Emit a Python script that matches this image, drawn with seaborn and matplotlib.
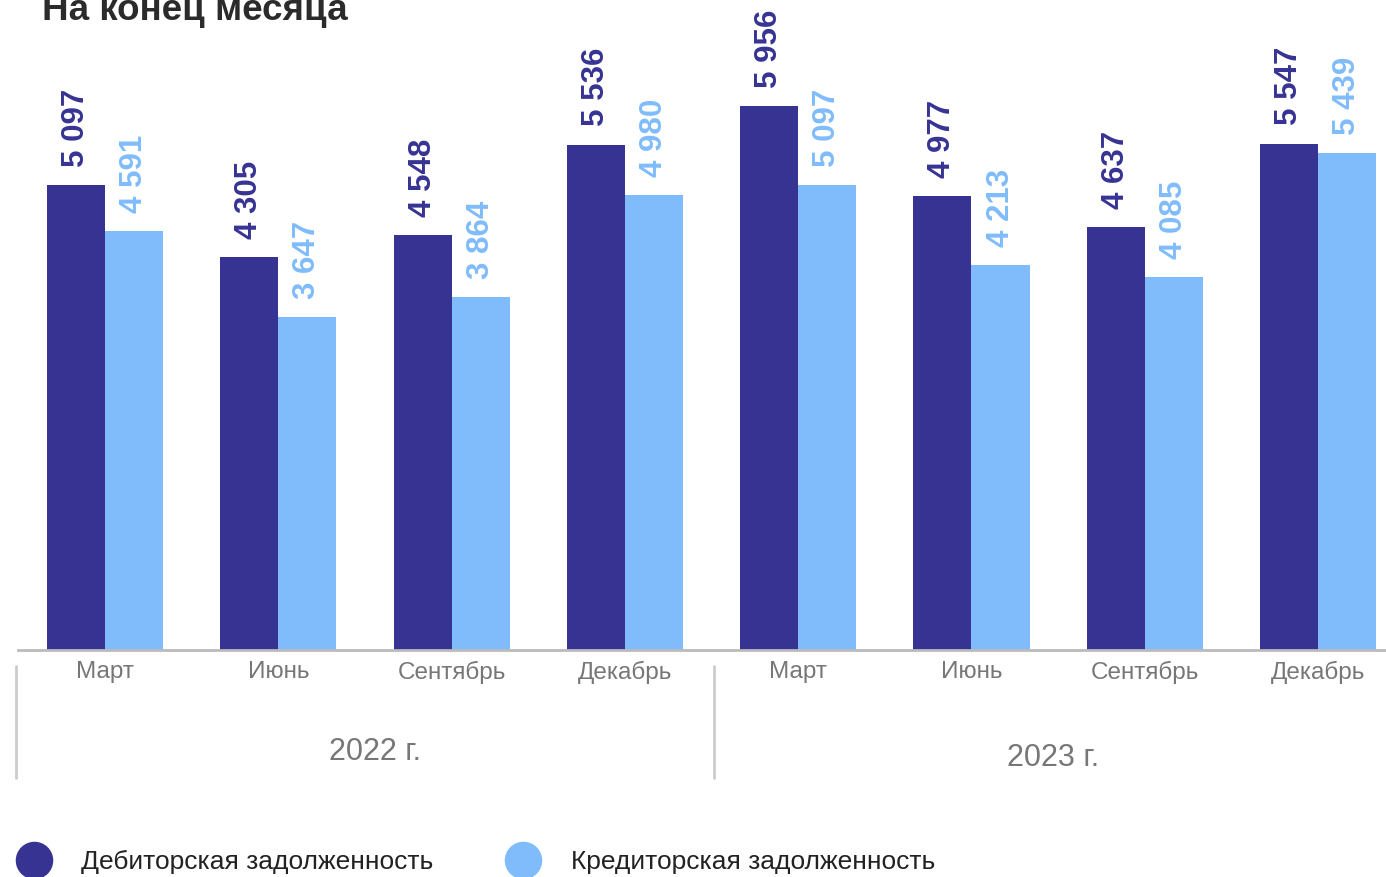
import pandas as pd
import seaborn as sns
import matplotlib.pyplot as plt
import matplotlib.transforms as mtransforms
from matplotlib.lines import Line2D

# data
periods = ["2022-03", "2022-06", "2022-09", "2022-12", "2023-03", "2023-06", "2023-09", "2023-12"]
months = ["Март", "Июнь", "Сентябрь", "Декабрь", "Март", "Июнь", "Сентябрь", "Декабрь"]
years = ["2022 г.", "2023 г."]
debit = [5097, 4305, 4548, 5536, 5956, 4977, 4637, 5547]
credit = [4591, 3647, 3864, 4980, 5097, 4213, 4085, 5439]
series = ["Дебиторская задолженность", "Кредиторская задолженность"]

dark = "#373393"
light = "#80BCFC"

df = pd.DataFrame({
    "period": periods * 2,
    "value": debit + credit,
    "series": [series[0]] * len(periods) + [series[1]] * len(periods),
})

sns.set_style("white")
plt.rcParams['font.family'] = ['Liberation Sans', 'DejaVu Sans']

fig = plt.figure(figsize=(13.86, 8.77), dpi=100)
ax = fig.add_axes([18 / 1386, 227 / 877, 1368 / 1386, 650 / 877])

sns.barplot(data=df, x="period", y="value", hue="series", order=periods, hue_order=series,
            palette=[dark, light], width=0.67, saturation=1, legend=False,
            linewidth=0, ax=ax)

ax.set_ylim(0, 7119)
ax.set_xlim(-0.502, 7.392)

for cont, col in zip(ax.containers, [dark, light]):
    labels = [f"{v:,.0f}".replace(",", " ") for v in cont.datavalues]
    ax.bar_label(cont, labels=labels, rotation=90, padding=13, color=col,
                 fontsize=22.5, fontweight="bold", clip_on=False)

ax.set_xlabel("")
ax.set_ylabel("")
ax.set_yticks([])
ax.set_xticks(range(len(months)))
ax.set_xticklabels(months, fontsize=17.5, color="#777777")
ax.tick_params(axis="x", length=0, pad=8)
for s in ["top", "right", "left"]:
    ax.spines[s].set_visible(False)
ax.spines["bottom"].set_color("#bbbbbb")
ax.spines["bottom"].set_linewidth(2)

# year group labels and separators
trans = mtransforms.blended_transform_factory(ax.transData, ax.transAxes)
ax.text(1.56, -0.157, years[0], transform=trans, ha="center", va="center",
        fontsize=22, color="#777777")
ax.text(5.47, -0.166, years[1], transform=trans, ha="center", va="center",
        fontsize=22, color="#777777")
for xs in [-0.514, 3.514]:
    ax.plot([xs, xs], [-0.025, -0.197], transform=trans, color="#cccccc",
            lw=2, clip_on=False)

# title
fig.text(42 / 1386, 1 - 20 / 877, "На конец месяца", fontsize=26.5, fontweight="bold",
         color="#2b2b2b", va="baseline")

# legend
handles = [Line2D([], [], marker="o", linestyle="none", markersize=26,
                  markerfacecolor=c, markeredgecolor=c) for c in [dark, light]]
fig.legend(handles, series, loc="center left", bbox_to_anchor=(15.5 / 1386, 15 / 877),
           bbox_transform=fig.transFigure, ncol=2, frameon=False, fontsize=19,
           handlelength=1.4, handletextpad=1.1, columnspacing=2.7, borderpad=0,
           borderaxespad=0, labelcolor="#222222")

fig.savefig("out.png", dpi=100)
